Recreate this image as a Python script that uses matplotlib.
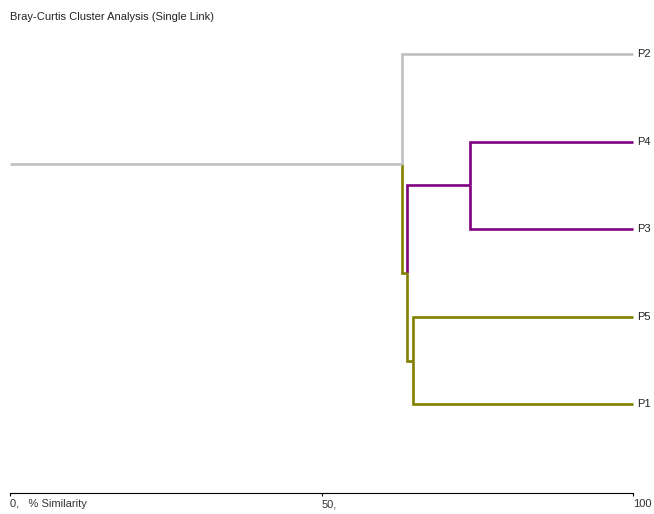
import matplotlib
matplotlib.use("Agg")
import matplotlib.pyplot as plt
from matplotlib.transforms import offset_copy

plt.rcParams['font.family'] = ['Liberation Sans', 'DejaVu Sans']

# Leaf order (top to bottom) and their colours
leaves = ["P2", "P4", "P3", "P5", "P1"]
leaf_colors = {"P2": "#c0c0c0", "P4": "#800080", "P3": "#800080",
               "P5": "#808000", "P1": "#808000"}

# Single-link merges: (name, left child, right child, % similarity, colour)
merges = [
    ("A", "P4", "P3", 73.9, "#800080"),
    ("B", "P5", "P1", 64.7, "#808000"),
    ("C", "A", "B", 63.8, "#808000"),
    ("R", "P2", "C", 63.0, "#c0c0c0"),
]

tick_values = [0, 50, 100]
tick_labels = ["0,   % Similarity", "50,", "100"]
title = "Bray-Curtis Cluster Analysis (Single Link)"

W, H = 654, 514
AXIS_Y = 493
fig = plt.figure(figsize=(W / 100, H / 100), dpi=100)
ax = fig.add_axes([0, (H - AXIS_Y) / H, 1, AXIS_Y / H])

# node positions: x = similarity, y = leaf index (or mean of children)
pos = {name: (100.0, i) for i, name in enumerate(leaves)}
color = dict(leaf_colors)
for name, a, b, sim, c in merges:
    pos[name] = (sim, (pos[a][1] + pos[b][1]) / 2)
    color[name] = c

lw = 1.9
for name, a, b, sim, c in merges:
    y_mid = pos[name][1]
    for child in (a, b):
        cx, cy = pos[child]
        ax.plot([sim, sim, cx], [y_mid, cy, cy], color=color[child],
                lw=lw, solid_joinstyle='miter', solid_capstyle='butt')

# root stem
root = merges[-1]
ax.plot([0, root[3]], [pos[root[0]][1]] * 2, color=root[4], lw=lw,
        solid_capstyle='butt')

# leaf labels
lab_tr = offset_copy(ax.transData, fig=fig, x=3, y=0, units='points')
for name in leaves:
    x, y = pos[name]
    ax.text(x, y, name, transform=lab_tr, ha='left', va='center',
            fontsize=8, color='#222222')

# axis scaling
px = 623 / 100.0
ax.set_xlim(-10 / px, (W - 10) / px)
step = 87.6
ax.set_ylim((AXIS_Y - 54) / step, -54 / step)

for s in ('top', 'left', 'right'):
    ax.spines[s].set_visible(False)
ax.spines['bottom'].set_bounds(0, 100)
ax.spines['bottom'].set_linewidth(0.8)
ax.set_yticks([])
ax.set_xticks(tick_values)
ax.set_xticklabels(tick_labels, ha='left', va='baseline')
ax.tick_params(axis='x', direction='out', length=2.2, width=0.8,
               labelsize=8, pad=8.0, labelcolor='#333333')
ax.patch.set_visible(False)

fig.text(10 / W, 1 - 17 / H, title, ha='left', va='center', fontsize=8,
         color='#222222')

fig.savefig("out.png", dpi=100)
